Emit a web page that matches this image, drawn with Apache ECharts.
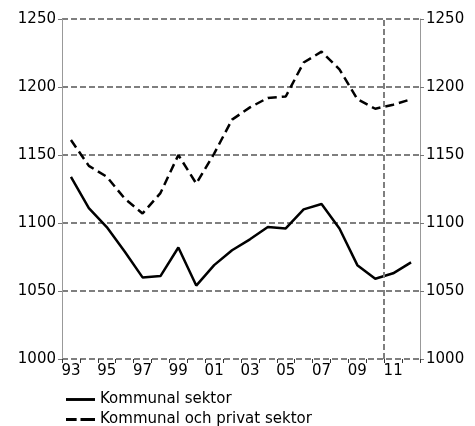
<!DOCTYPE html>
<html>
<head>
<meta charset="utf-8">
<script src="https://cdn.jsdelivr.net/npm/echarts@6/dist/echarts.min.js"></script>
<style>
  html, body { margin: 0; padding: 0; background: #fff; }
  #main { width: 475px; height: 426px; }
</style>
</head>
<body>
<div id="main"></div>
<script>
// data
var years = ['1993', '1994', '1995', '1996', '1997', '1998', '1999', '2000', '2001', '2002',
  '2003', '2004', '2005', '2006', '2007', '2008', '2009', '2010', '2011', '2012'];
var kommunal = [1134, 1111, 1097, 1079, 1060, 1061, 1082, 1054, 1069, 1080,
  1088, 1097, 1096, 1110, 1114, 1096, 1069, 1059, 1063, 1071];
var kommunalPrivat = [1161, 1142, 1134, 1118, 1107, 1122, 1150, 1129, 1151, 1176,
  1185, 1192, 1193, 1218, 1226, 1213, 1191, 1184, 1187, 1191];
var yTicks = { min: 1000, max: 1250, step: 50 };
var prognosStart = '2011';

var myChart = echarts.init(document.getElementById('main'));
var font = 'DejaVu Sans';
var gridGray = '#7f7f7f';
var dash = { color: gridGray, width: 2, type: [6, 3] };

var yAxisBase = {
  type: 'value',
  min: yTicks.min,
  max: yTicks.max,
  interval: yTicks.step,
  axisLine: { show: true, lineStyle: { color: '#999', width: 1 } },
  axisTick: { show: true, length: 4, lineStyle: { color: '#777', width: 1 } },
  axisLabel: {
    color: '#000', fontSize: 15, fontFamily: font, margin: 6,
    formatter: function (v) { return String(v); }
  }
};

// en legend per rad
function legendRow(top, name, icon) {
  return {
    left: 66,
    top: top,
    padding: 0,
    itemWidth: 29,
    itemHeight: 14,
    textStyle: { color: '#000', fontSize: 15, fontFamily: font },
    data: [{ name: name, icon: icon }]
  };
}

var option = {
  animation: false,
  grid: { left: 62, right: 55, top: 19, bottom: 67 },
  legend: [
    legendRow(392, 'Kommunal sektor', 'path://M0,0 H30 V3 H0 Z'),
    legendRow(412, 'Kommunal och privat sektor', 'path://M0,0 H11 V3 H0 Z M15,0 H30 V3 H15 Z')
  ],
  xAxis: [{
    type: 'category',
    data: years,
    boundaryGap: true,
    axisLine: { show: false },
    axisTick: { show: true, interval: 0, length: 4, lineStyle: { color: '#333', width: 1 } },
    axisLabel: {
      interval: 1,
      color: '#000',
      fontSize: 15,
      fontFamily: font,
      margin: 5,
      formatter: function (v) { return v.slice(2); }
    },
    splitLine: { show: false }
  }, {
    // dold axel bara for den lodräta linjen
    type: 'value',
    min: 0,
    max: years.length,
    show: false
  }],
  yAxis: [
    Object.assign({}, yAxisBase, {
      position: 'left',
      splitLine: { show: true, lineStyle: dash }
    }),
    Object.assign({}, yAxisBase, {
      position: 'right',
      splitLine: { show: false }
    })
  ],
  series: [
    {
      name: 'Kommunal sektor',
      type: 'line',
      data: kommunal,
      symbol: 'none',
      lineStyle: { color: '#000', width: 2.5 },
      itemStyle: { color: '#000' }
    },
    {
      name: 'Kommunal och privat sektor',
      type: 'line',
      data: kommunalPrivat,
      symbol: 'none',
      lineStyle: { color: '#000', width: 2.5, type: [9, 5] },
      itemStyle: { color: '#000' }
    },
    {
      name: 'prognos',
      type: 'line',
      xAxisIndex: 1,
      data: [],
      markLine: {
        silent: true,
        symbol: 'none',
        label: { show: false },
        lineStyle: dash,
        data: [{ xAxis: years.indexOf(prognosStart) }]
      }
    }
  ]
};

myChart.setOption(option);
</script>
</body>
</html>
